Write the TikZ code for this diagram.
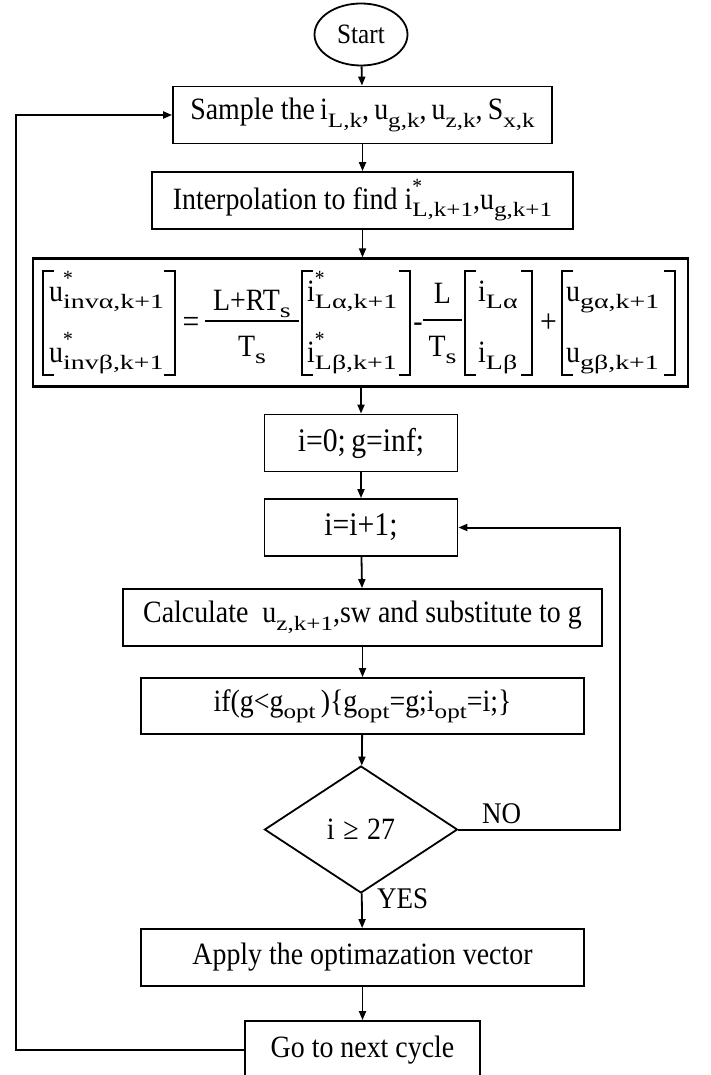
\RequirePackage{fix-cm}
\documentclass[tikz,border=0pt]{standalone}
\usepackage{graphicx}
\usepackage{fontspec}
\setmainfont{Liberation Serif}[FakeStretch=0.9]
\usetikzlibrary{shapes.geometric,arrows.meta}
\newcommand\sbx[1]{\raisebox{-0.24em}{\scalebox{0.9}[0.66]{#1}}}
\newcommand\esbx[1]{\raisebox{-0.24em}{\scalebox{1.0}[0.66]{#1}}}
\newcommand\V[2]{#1\sbx{#2}}
\newcommand\VS[2]{#1\rlap{\raisebox{0.5em}{\scalebox{0.7}{*}}}\sbx{#2}}
\newcommand\EV[2]{#1\esbx{#2}}
\newcommand\EVS[2]{#1\rlap{\raisebox{0.5em}{\scalebox{0.7}{*}}}\esbx{#2}}
\newcommand\fsz[1]{\fontsize{#1}{#1}\selectfont}
\begin{document}
\begin{tikzpicture}[x=1pt,y=-1pt,
  proc/.style={draw, line width=1.8pt, inner sep=0pt, align=center, font=\fsz{31}},
  arr/.style={line width=1.8pt, -{Triangle[length=9pt,width=7pt]}},
  loopline/.style={line width=2pt, -{Triangle[length=9pt,width=7pt]}},
  lbl/.style={font=\fsz{30}, inner sep=0pt, anchor=base west},
  eqt/.style={font=\fsz{31}, inner sep=0pt, anchor=base west},
  eqc/.style={font=\fsz{31}, inner sep=0pt, anchor=base},
  brk/.style={line width=1.2pt},
  bar/.style={line width=1.3pt}]
\useasboundingbox (0,0) rectangle (710,1075);

\node[proc, ellipse, minimum width=93pt, minimum height=62pt, font=\fsz{28}] (start) at (361,34.5) {Start};
\node[proc, minimum width=379pt, minimum height=57pt] (sample) at (362.5,115)
  {Sample the\,\V{i}{L,k},\,\V{u}{g,k},\,\V{u}{z,k},\,\V{S}{x,k}};
\node[proc, minimum width=421pt, minimum height=57pt] (interp) at (362.5,200.5)
  {Interpolation to find \VS{i}{L,k+1},\V{u}{g,k+1}};

% equation box
\node[proc, line width=2.2pt, minimum width=655pt, minimum height=128pt] (eq) at (360.5,322.5) {};
% brackets
\foreach \l/\r in {43/175, 302/410, 465/532, 562/675}{
  \draw[brk] (\l+11,271) -- (\l,271) -- (\l,375) -- (\l+11,375);
  \draw[brk] (\r-11,271) -- (\r,271) -- (\r,375) -- (\r-11,375);
}
\node[eqt] (b1a) at (49,301) {\EVS{u}{invα,k+1}};
\node[eqt] (b1b) at (49,362) {\EVS{u}{invβ,k+1}};
\node[eqc, font=\fsz{33}] (eqs) at (191,332) {=};
\node[eqc] (f1n) at (252,310) {L+R\EV{T}{s}};
\draw[bar] (205,321) -- (299,321);
\node[eqc] (f1d) at (252,356) {\EV{T}{s}};
\node[eqt] (b2a) at (307,301) {\EVS{i}{Lα,k+1}};
\node[eqt] (b2b) at (307,362) {\EVS{i}{Lβ,k+1}};
\node[eqc] (minus) at (418,331) {-};
\node[eqc] (f2n) at (442.5,303) {L};
\draw[bar] (423,320) -- (462,320);
\node[eqc] (f2d) at (442.5,356) {\EV{T}{s}};
\node[eqt] (b3a) at (478,301) {\EV{i}{Lα}};
\node[eqt] (b3b) at (478,362) {\EV{i}{Lβ}};
\node[eqc, font=\fsz{33}] (plus) at (548.5,332) {+};
\node[eqt] (b4a) at (566,301) {\EV{u}{gα,k+1}};
\node[eqt] (b4b) at (566,362) {\EV{u}{gβ,k+1}};

\node[proc, minimum width=193pt, minimum height=57pt, font=\fsz{33}] (init) at (361,443) {i=0;\,g=inf;};
\node[proc, minimum width=193pt, minimum height=57pt, font=\fsz{33}] (inc) at (361,527.5) {i=i+1;};
\node[proc, minimum width=479pt, minimum height=57pt] (calc) at (362.5,617.5)
  {Calculate\ \ \V{u}{z,k+1},sw and substitute to g};
\node[proc, minimum width=443pt, minimum height=56pt] (iff) at (362.5,706)
  {if(g<\V{g}{opt}\,)\{\V{g}{opt}=g;\V{i}{opt}=i;\}};
\node[proc, diamond, aspect=1.52, minimum width=193pt, minimum height=127pt, font=\fsz{31}] (dia) at (361,829.5) {i\;≥\;27};
\node[proc, minimum width=443pt, minimum height=57pt] (apply) at (362.5,957.5) {Apply the optimazation vector};
\node[proc, minimum width=235pt, minimum height=58pt] (next) at (362.5,1050) {Go to next cycle};

\node[lbl] (no) at (482,823) {NO};
\node[lbl] (yes) at (377,908) {YES};

\coordinate (lx) at (16,600);
\coordinate (rx) at (620,700);

\draw[arr] (start) -- (sample);
\draw[arr] (sample) -- (interp);
\draw[arr] (interp.south) -- (eq.north -| interp.south);
\draw[arr] (eq.south -| init.north) -- (init);
\draw[arr] (init) -- (inc);
\draw[arr] (inc) -- (calc);
\draw[arr] (calc) -- (iff);
\draw[arr] (iff) -- (dia);
\draw[arr] (dia) -- (apply);
\draw[arr] (apply) -- (next);
\draw[loopline] (next.west) -| (lx) |- (sample.west);
\draw[loopline] (dia.east) -| (rx) |- (inc.east);
\end{tikzpicture}
\end{document}
